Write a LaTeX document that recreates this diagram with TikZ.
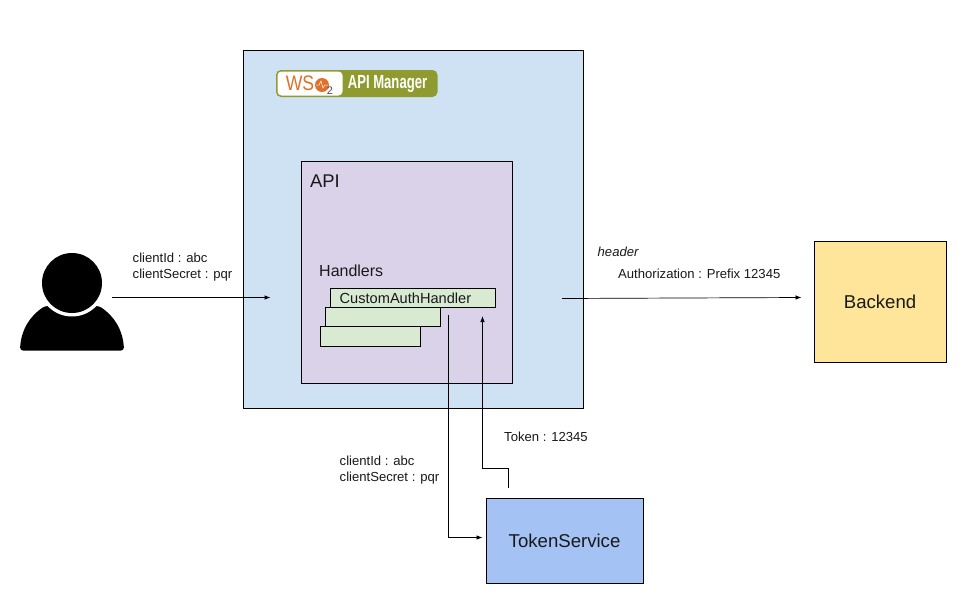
\documentclass[tikz,border=0pt]{standalone}
\usepackage{fontspec}
\setmainfont{Liberation Sans}
\definecolor{mgrblue}{HTML}{CFE2F3}
\definecolor{apipurple}{HTML}{D9D2E9}
\definecolor{hgreen}{HTML}{D9EAD3}
\definecolor{tokblue}{HTML}{A4C2F4}
\definecolor{backyellow}{HTML}{FFE599}
\definecolor{logoolive}{HTML}{8F9B2E}
\definecolor{logoorange}{HTML}{E0702A}
\tikzset{
  box/.style={draw=black,line width=0.7pt,inner sep=0pt},
  lbl/.style={font=\fontsize{13.1}{16}\selectfont,inner sep=0pt,align=left,anchor=north west,text=black!90},
  big/.style={font=\fontsize{18.6}{21}\selectfont,inner sep=0pt,text=black!90},
  conn/.style={draw=black,line width=0.7pt,-{Latex[length=6pt,width=4.5pt]}},
}
\usetikzlibrary{arrows.meta}
\begin{document}
\begin{tikzpicture}[x=1pt,y=-1pt]
\useasboundingbox (0,0) rectangle (967,598);
\fill[white] (0,0) rectangle (967,598);
% manager box
\node[box,fill=mgrblue,minimum width=340pt,minimum height=358pt,anchor=north west] (mgr) at (242.7,50.2) {};
% logo
\fill[logoolive] (276,70) [rounded corners=5pt] rectangle (437.5,97);
\fill[white,rounded corners=4pt] (277.5,71.5) rectangle (342.5,95.5);
\node[font=\fontsize{21}{21}\selectfont,text=logoorange,inner sep=0pt,xscale=0.84] (wslogo) at (300,83.5) {WS};
\fill[logoorange] (322,85) circle (7pt);
\draw[white,line width=0.5pt] (316,85) -- (319,85) -- (321,81) -- (323,88) -- (325,85) -- (328,85);
\node[font=\fontsize{11}{11}\selectfont,text=black!70,inner sep=0pt] (wstwo) at (330,90.5) {2};
\node[font=\bfseries\fontsize{19}{19}\selectfont,text=white,inner sep=0pt,xscale=0.69] (apimgr) at (387.5,84) {API Manager};
% API box
\node[box,fill=apipurple,minimum width=211pt,minimum height=222pt,anchor=north west] (api) at (300.7,160.7) {};
\node[inner sep=0pt,anchor=west,font=\fontsize{18.4}{21}\selectfont,text=black!90] (apilabel) at (310,181) {API};
\node[lbl,anchor=west,font=\fontsize{16}{18}\selectfont,text=black!90] (handlers) at (319,271) {Handlers};
% handlers
\node[box,fill=hgreen,minimum width=100.5pt,minimum height=20pt,anchor=north west] (h3) at (319.7,325.7) {};
\node[box,fill=hgreen,minimum width=115.5pt,minimum height=19pt,anchor=north west] (h2) at (324.7,306.7) {};
\node[box,fill=hgreen,minimum width=165.5pt,minimum height=19pt,anchor=north west] (h1) at (329.7,287.7) {};
\node[inner sep=0pt,anchor=west,font=\fontsize{14.6}{17}\selectfont,text=black!90] (cah) at (339.5,298) {CustomAuthHandler};
% backend and token service
\node[box,fill=backyellow,minimum width=132pt,minimum height=121pt,anchor=north west,big] (backend) at (813.7,240.7) {\raisebox{-1pt}{Backend}};
\node[box,fill=tokblue,minimum width=157pt,minimum height=85pt,anchor=north west,big] (token) at (485.7,497.7) {\raisebox{-1pt}{TokenService}};
% person
\fill[black,rounded corners=3pt] (20,350.5) .. controls (21,330) and (30,316) .. (45,306) -- (99,306) .. controls (114,316) and (123,330) .. (124,350.5) -- cycle;
\fill[white] (72,283) circle (33.5pt);
\fill[black] (72,283) circle (30pt);
\coordinate (personout) at (112,297.5);
\coordinate (mgrin) at (270.5,297.5);
\draw[conn] (personout) -- (mgrin);
\coordinate (apiout) at (562,298.5);
\coordinate (backin) at (801.5,297.5);
\draw[conn] (apiout) -- (backin);
\coordinate (hout) at (448.5,315);
\coordinate (tokin) at (482.5,537.5);
\draw[conn] (hout) |- (tokin);
\coordinate (tokout) at (508.5,488);
\coordinate (hin) at (482.5,316);
\draw[conn] (tokout) -- (508.5,468.5) -- (482.5,468.5) -- (hin);
% labels
\node[lbl] (cred1) at (132.5,252.5) {clientId : abc\\clientSecret : pqr};
\node[lbl] (cred2) at (339.5,455.5) {clientId : abc\\clientSecret : pqr};
\node[lbl] (tokl) at (504,431.5) {Token : 12345};
\node[lbl,font=\itshape\fontsize{13.1}{16}\selectfont] (hdr) at (597.5,246.5) {header};
\node[lbl] (auth) at (618,268.5) {Authorization : Prefix 12345};
\end{tikzpicture}
\end{document}
